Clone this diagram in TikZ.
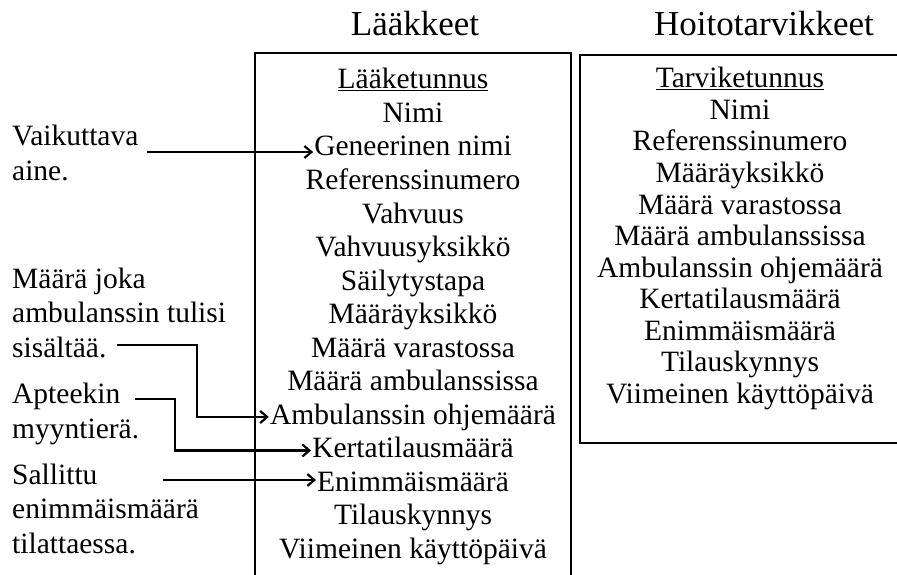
\documentclass[tikz,border=0pt]{standalone}
\usepackage{fontspec}
\setmainfont{Liberation Serif}
\usetikzlibrary{arrows.meta}

\tikzset{
  txt/.style={font={\fontsize{29.5}{34.5}\selectfont}},
  item/.style={txt,inner sep=1pt,text height=20pt,text depth=6pt},
  note/.style={txt,align=left,inner sep=0pt,anchor=base west},
  head/.style={font={\fontsize{35}{40}\selectfont},inner sep=0pt},
  box/.style={line width=2.2pt},
  arr/.style={line width=2.2pt,-{Straight Barb[length=7pt,width=12pt]}},
}

\begin{document}
\begin{tikzpicture}[x=1pt,y=-1pt]
  \useasboundingbox (0,0) rectangle (897,575);
  \clip (0,0) rectangle (897,575);
  % headings
  \node[head] (hl) at (415,24) {Lääkkeet};
  \node[head] (hr) at (764,24) {Hoitotarvikkeet};
  % the two boxes, cut by the page edge
  \draw[box] (255,590) -- (255,53) -- (571,53) -- (571,590);
  \draw[box] (905,55) -- (580,55) -- (580,443) -- (905,443);
  % fields
  \foreach \t [count=\i from 0] in {{\underline{Lääketunnus}},Nimi,Geneerinen nimi,
      Referenssinumero,Vahvuus,Vahvuusyksikkö,Säilytystapa,Määräyksikkö,
      Määrä varastossa,Määrä ambulanssissa,Ambulanssin ohjemäärä,
      Kertatilausmäärä,Enimmäismäärä,Tilauskynnys,Viimeinen käyttöpäivä}
    \node[item] (l\i) at (413,82+33.5*\i) {\t};
  \foreach \t [count=\i from 0] in {{\underline{Tarviketunnus}},Nimi,Referenssinumero,
      Määräyksikkö,Määrä varastossa,Määrä ambulanssissa,Ambulanssin ohjemäärä,
      Kertatilausmäärä,Enimmäismäärä,Tilauskynnys,Viimeinen käyttöpäivä}
    \node[item] (r\i) at (740,81+31.5*\i) {\t};
  % notes on the left (anchored at the last line)
  \node[note] (vaik) at (12,180) {Vaikuttava\\aine.};
  \node[note] (maara) at (12,357) {Määrä joka\\ambulanssin tulisi\\sisältää.};
  \node[note] (apt) at (12,438) {Apteekin\\myyntierä.};
  \node[note] (sal) at (12,553) {Sallittu\\enimmäismäärä\\tilattaessa.};
  \coordinate (s1) at (147,152);
  \coordinate (s2) at (117,345);
  \coordinate (s3) at (135,399);
  \coordinate (s4) at (163,480);
  \draw[arr] (s1) -- (s1 -| l2.west);
  \draw[arr] (s2) -- ++(80,0) |- (l10.west);
  \draw[arr] (s3) -- ++(40,0) |- (l11.west);
  \draw[arr] (s4) -- (s4 -| l12.west);
\end{tikzpicture}
\end{document}
